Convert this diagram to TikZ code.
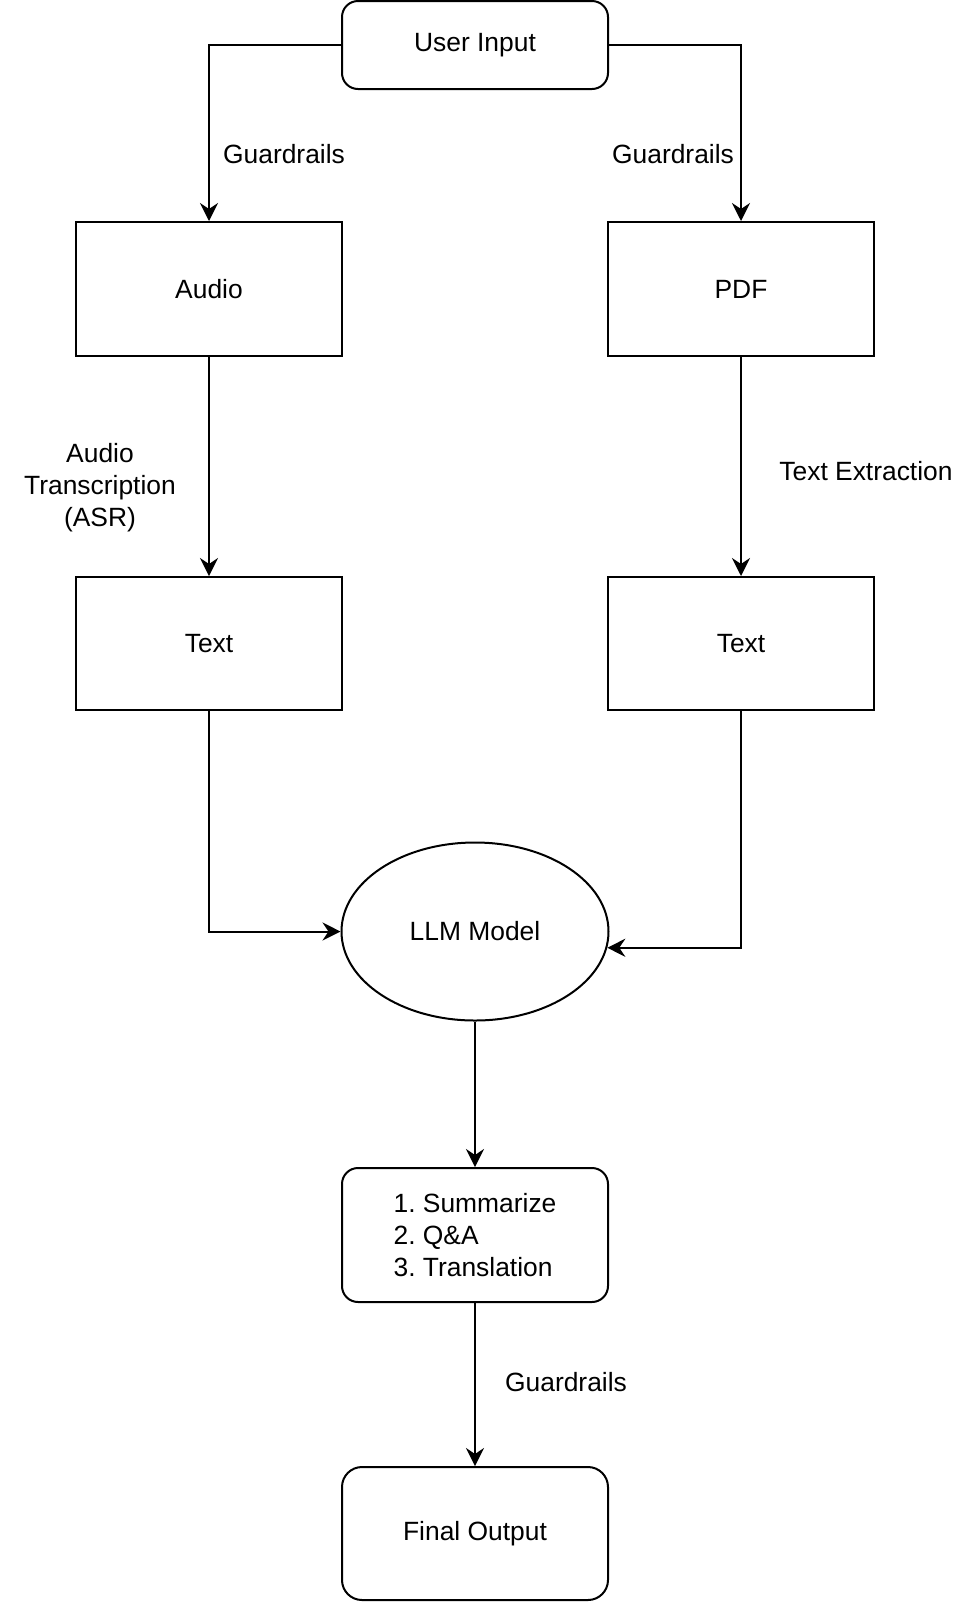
\documentclass[tikz,border=0pt]{standalone}
\usepackage{fontspec}
\setmainfont{Liberation Sans}
\usetikzlibrary{shapes.geometric,arrows.meta}

\tikzset{
    box/.style={draw, minimum width=133pt, minimum height=66.5pt, inner sep=0pt},
    rbox/.style={box, rounded corners=8pt},
    lbl/.style={inner sep=0pt, align=center},
}

\begin{document}
\frenchspacing
\begin{tikzpicture}[x=0.5pt, y=-0.5pt, line width=1pt,
    >={Stealth[length=9pt, width=9pt, inset=3pt]},
    font=\fontsize{13.2}{16}\selectfont]
    % 0. Khung ảnh
    \useasboundingbox (0,0) rectangle (975,1602);

    % 1. Các khối
    \node[rbox, minimum height=44pt] (input) at (475,45) {User Input};
    \node[box, minimum height=67pt] (audio) at (209,289) {Audio};
    \node[box, minimum height=67pt] (pdf)   at (741,289) {PDF};
    \node[box] (textA) at (209,643.5) {Text};
    \node[box] (textB) at (741,643.5) {Text};
    \node[draw, ellipse, minimum width=133.5pt, minimum height=89pt, inner sep=0pt] (llm) at (475,931.5) {LLM Model};
    \node[rbox, minimum height=67pt, align=left] (tasks) at (475,1235) {1. Summarize\\2. Q\&A\\3. Translation};
    \node[rbox, rounded corners=10pt] (output) at (475,1533.5) {Final Output};

    % 2. Mũi tên
    \draw[->] (input.west) -| (audio.north);
    \draw[->] (input.east) -| (pdf.north);
    \draw[->] (audio.south) -- (textA.north);
    \draw[->] (pdf.south) -- (textB.north);
    \draw[->] (textA.south) |- (llm.west);
    \draw[->] (textB.south) |- (llm.-7);
    \draw[->] (llm.south) -- (tasks.north);
    \draw[->] (tasks.south) -- (output.north);

    % 3. Nhãn
    \node[lbl] (gLeft)  at (284,154) {Guardrails};
    \node[lbl] (gRight) at (673,154) {Guardrails};
    \node[lbl] (asr)    at (100,488) {Audio\\Transcription\\(ASR)};
    \node[lbl] (extr)   at (866,471) {Text Extraction};
    \node[lbl] (gOut)   at (566,1382) {Guardrails};
\end{tikzpicture}
\end{document}
